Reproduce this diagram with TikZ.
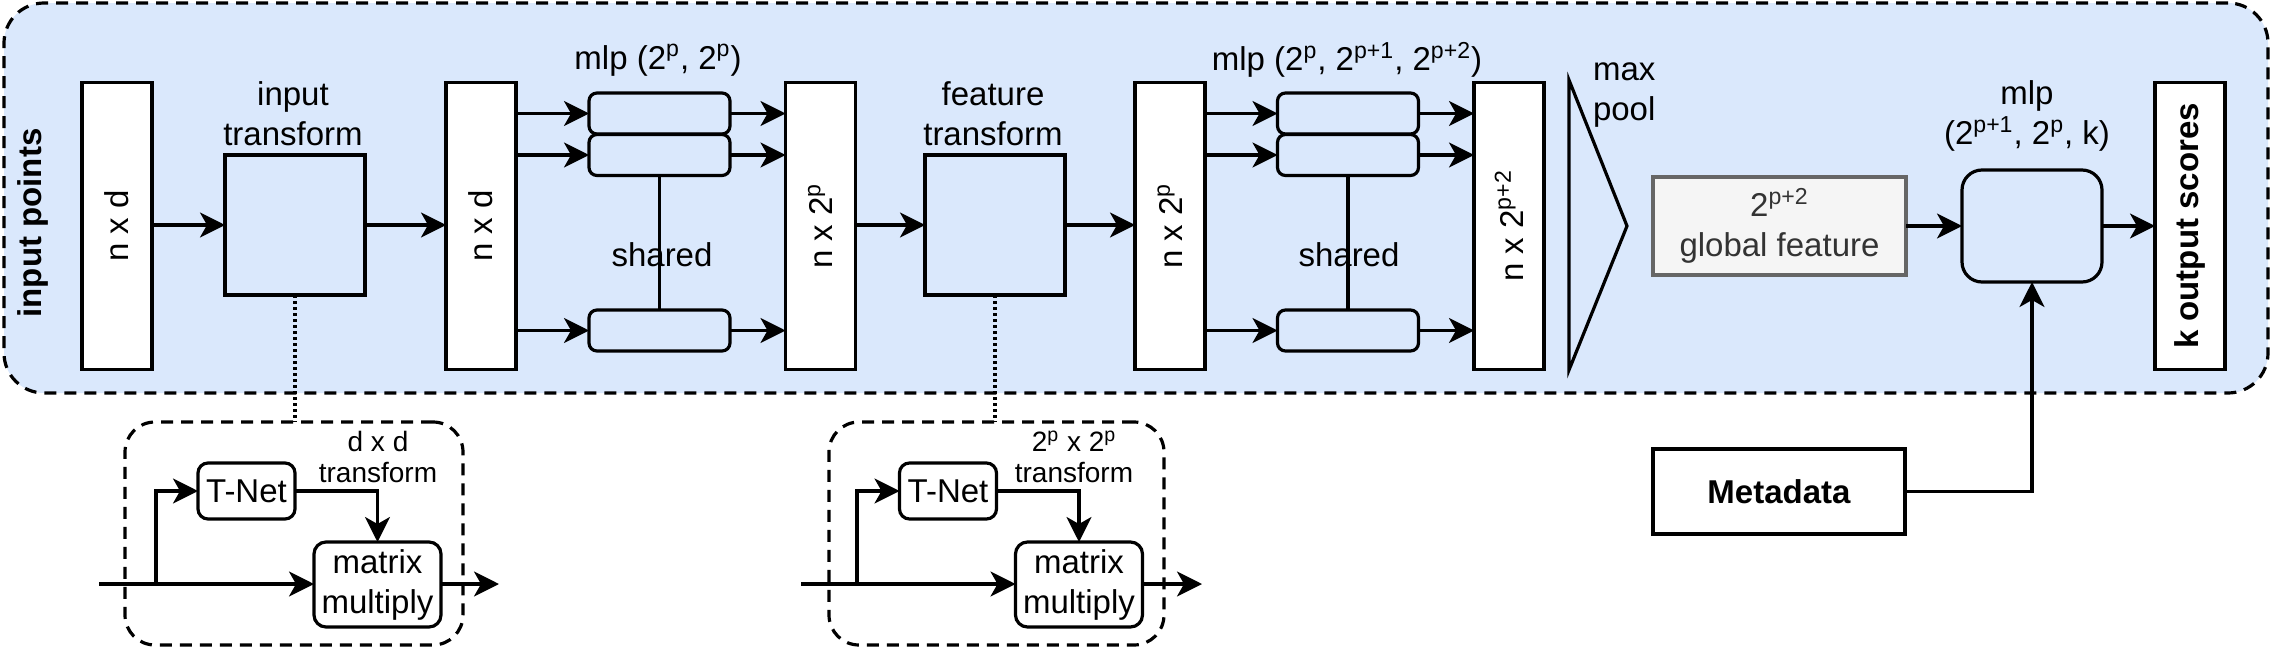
\documentclass[tikz,border=0pt]{standalone}
\usepackage{fontspec}
\setmainfont{Liberation Sans}
\usepackage{graphicx}
\usetikzlibrary{arrows.meta,calc}
\definecolor{bluefill}{HTML}{DAE8FC}
\definecolor{grayfill}{HTML}{F5F5F5}
\definecolor{graystroke}{HTML}{666666}
\definecolor{graytext}{HTML}{333333}
\newcommand\basefnt{\fontsize{16.5pt}{20pt}\selectfont}
\newcommand\smallfnt{\fontsize{14pt}{15.5pt}\selectfont}
\begin{document}
\begin{tikzpicture}[x=0.5pt,y=-0.5pt,
  every node/.style={font=\basefnt, inner sep=0pt, outer sep=0pt},
  lw/.style={line width=1.6pt},
  dsh/.style={dash pattern=on 6pt off 4pt},
  arr/.style={lw, -{Stealth[length=12.5pt,width=12.5pt,inset=3.5pt]}},
  tallbox/.style={draw, lw, fill=white, minimum width=35pt, minimum height=143.5pt},
  tbox/.style={draw, lw, fill=bluefill, minimum width=70pt, minimum height=70pt},
  mlpbox/.style={draw, lw, fill=bluefill, rounded corners=4pt, minimum width=70.5pt, minimum height=20.5pt},
  gfbox/.style={draw=graystroke, lw, fill=grayfill, text=graytext, align=center, minimum width=126.5pt, minimum height=49pt},
  innerbox/.style={draw, lw, dsh, rounded corners=15pt},
  tnet/.style={draw, lw, fill=white, rounded corners=5pt, minimum width=48.5pt, minimum height=28pt},
  mmbox/.style={draw, lw, fill=white, rounded corners=6pt, align=center, minimum width=63.5pt, minimum height=42.5pt},
  boldtxt/.style={font=\basefnt\bfseries}
]
\useasboundingbox (0,0) rectangle (2272,648);

% outer container
\node[draw, lw, dsh, fill=bluefill, rounded corners=20pt, minimum width=1132pt, minimum height=195pt] (outer) at (1136,198) {};
\node[boldtxt] (inpts) at (33,223) {\rotatebox{90}{input points}};

% main row
\node[tallbox] (b1) at (117,226) {\rotatebox{90}{n x d}};
\node[tbox] (t1) at (295,225) {};
\node[align=center] (t1l) at (293,114) {input\\transform};
\node[tallbox] (b2) at (481,226) {\rotatebox{90}{n x d}};
\node[mlpbox] (m1a) at (659.5,113.5) {};
\node[mlpbox] (m1b) at (659.5,155) {};
\node[mlpbox] (m1c) at (659.5,330.5) {};
\node (m1l) at (658,60) {mlp (2\textsuperscript{p}, 2\textsuperscript{p})};
\node (sh1) at (662,255) {shared};
\node[tallbox] (b3) at (820.5,226) {\rotatebox{90}{n x 2\textsuperscript{p}}};
\node[tbox] (t2) at (995,225) {};
\node[align=center] (t2l) at (993,114) {feature\\transform};
\node[tallbox] (b4) at (1170,226) {\rotatebox{90}{n x 2\textsuperscript{p}}};
\node[mlpbox] (m2a) at (1348,113.5) {};
\node[mlpbox] (m2b) at (1348,155) {};
\node[mlpbox] (m2c) at (1348,330.5) {};
\node (m2l) at (1347,60) {mlp (2\textsuperscript{p}, 2\textsuperscript{p+1}, 2\textsuperscript{p+2})};
\node (sh2) at (1349,255) {shared};
\node[tallbox] (b5) at (1509,226) {\rotatebox{90}{n x 2\textsuperscript{p+2}}};

% max pool
\draw[lw, fill=bluefill] (1569,80) -- (1627,226) -- (1569,370) -- cycle;
\node[align=left, anchor=west] (mp) at (1593,95) {max\\pool};

\node[gfbox] (gf) at (1779.5,226) {2\textsuperscript{p+2}\\global feature};
\node[draw, lw, fill=bluefill, rounded corners=10pt, minimum width=70pt, minimum height=56pt] (m3) at (2032,226) {};
\node[align=center] (m3l) at (2027,116) {mlp\\(2\textsuperscript{p+1}, 2\textsuperscript{p}, k)};
\node[tallbox, boldtxt] (ko) at (2190,226) {\rotatebox{90}{k output scores}};
\node[draw, lw, fill=white, minimum width=126pt, minimum height=42.5pt, boldtxt] (meta) at (1779,491.5) {Metadata};

% main arrows
\draw[arr] (b1.east |- t1.west) -- (t1.west);
\draw[arr] (t1.east) -- (t1.east -| b2.west);
\foreach \m in {m1a,m1b,m1c} {
  \draw[arr] (\m.west -| b2.east) -- (\m.west);
  \draw[arr] (\m.east) -- (\m.east -| b3.west);
}
\draw[lw] (m1b.south) -- (m1c.north);
\draw[arr] (b3.east |- t2.west) -- (t2.west);
\draw[arr] (t2.east) -- (t2.east -| b4.west);
\foreach \m in {m2a,m2b,m2c} {
  \draw[arr] (\m.west -| b4.east) -- (\m.west);
  \draw[arr] (\m.east) -- (\m.east -| b5.west);
}
\draw[lw] (m2b.south) -- (m2c.north);
\draw[arr] (gf.east) -- (gf.east -| m3.west);
\draw[arr] (m3.east) -- (m3.east -| ko.west);
\draw[arr] (meta.east) -| (m3.south);

% T-Net detail 1
\node[innerbox] (ib1) at (294,533.5) [minimum width=169pt, minimum height=111.5pt] {};
\node[tnet] (tn1) at (246.5,491) {T-Net};
\node[mmbox] (mm1) at (377.5,584.5) {matrix\\multiply};
\node[font=\smallfnt, align=center] (l1) at (378,457) {d x d\\transform};
\coordinate (in1) at (99,584);
\coordinate (br1) at (156,584);
\coordinate (out1) at (499,584);
\draw[lw, dash pattern=on 1.5pt off 1.5pt] (t1.south) -- (t1.south |- ib1.north);
\draw[arr] (in1) -- (in1 -| mm1.west);
\draw[arr] (br1) |- (tn1.west);
\draw[arr] (tn1.east) -| (mm1.north);
\draw[arr] (mm1.east |- out1) -- (out1);

% T-Net detail 2
\node[innerbox] (ib2) at (996.5,533.5) [minimum width=167.5pt, minimum height=111.5pt] {};
\node[tnet] (tn2) at (948,491) {T-Net};
\node[mmbox] (mm2) at (1079,584.5) {matrix\\multiply};
\node[font=\smallfnt, align=center] (l2) at (1074,457) {2\textsuperscript{p} x 2\textsuperscript{p}\\transform};
\coordinate (in2) at (801,584);
\coordinate (br2) at (857,584);
\coordinate (out2) at (1202,584);
\draw[lw, dash pattern=on 1.5pt off 1.5pt] (t2.south) -- (t2.south |- ib2.north);
\draw[arr] (in2) -- (in2 -| mm2.west);
\draw[arr] (br2) |- (tn2.west);
\draw[arr] (tn2.east) -| (mm2.north);
\draw[arr] (mm2.east |- out2) -- (out2);
\end{tikzpicture}
\end{document}
